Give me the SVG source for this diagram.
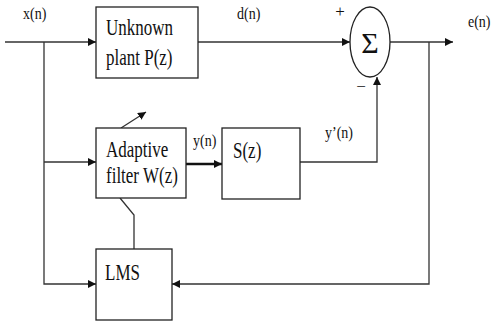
<svg xmlns="http://www.w3.org/2000/svg" width="503" height="324" viewBox="0 0 503 324">
<style>
.box{fill:#fff;stroke:#222;stroke-width:1.3}
.ln{fill:none;stroke:#333;stroke-width:1.3}
.t{font-family:"Liberation Serif","DejaVu Serif","Times New Roman",serif;font-size:17px;fill:#111}
.s{font-size:14px}
.sig{font-size:30px}
</style>
<defs>
<marker id="ah" viewBox="0 0 10 10" refX="10" refY="5" markerWidth="8" markerHeight="8" markerUnits="userSpaceOnUse" orient="auto">
<path d="M0,0 L10,5 L0,10 z" fill="#111"/>
</marker>
</defs>
<rect width="503" height="324" fill="#fff"/>
<g id="connectors">
<line class="ln" x1="5" y1="42" x2="96" y2="42" marker-end="url(#ah)"/>
<polyline class="ln" points="44,42 44,284 96,284" marker-end="url(#ah)"/>
<line class="ln" x1="44" y1="162" x2="96" y2="162" marker-end="url(#ah)"/>
<line class="ln" x1="198" y1="42" x2="350" y2="42" marker-end="url(#ah)"/>
<line class="ln" x1="390" y1="42" x2="453" y2="42" marker-end="url(#ah)"/>
<polyline class="ln" points="429,42 429,284 172,284" marker-end="url(#ah)"/>
<line x1="186" y1="164" x2="222" y2="164" stroke="#111" stroke-width="2.5" marker-end="url(#ah)"/>
<polyline class="ln" points="300,162 377,162 377,77" marker-end="url(#ah)"/>
<line class="ln" x1="121" y1="128" x2="146" y2="112" marker-end="url(#ah)"/>
<polyline class="ln" points="120,198 134,215 134,249"/>
</g>
<g id="plant">
<rect class="box" x="96" y="7" width="102" height="71"/>
<text class="t" transform="translate(106,35) scale(1,1.3)">Unknown</text>
<text class="t" transform="translate(106,65) scale(1,1.3)">plant P(z)</text>
</g>
<g id="sum">
<ellipse class="box" cx="370" cy="42" rx="20" ry="35"/>
<text class="t sig" x="370" y="53" text-anchor="middle">Σ</text>
<text class="t" x="340" y="17" text-anchor="middle">+</text>
<text class="t" x="361" y="92" text-anchor="middle">−</text>
</g>
<g id="filter">
<rect class="box" x="96" y="128" width="90" height="70"/>
<text class="t" transform="translate(106,157) scale(1,1.3)">Adaptive</text>
<text class="t" transform="translate(106,183) scale(1,1.3)">filter W(z)</text>
</g>
<g id="secondary">
<rect class="box" x="222" y="128" width="78" height="71"/>
<text class="t" transform="translate(233,158) scale(1,1.3)">S(z)</text>
</g>
<g id="lms">
<rect class="box" x="96" y="249" width="76" height="71"/>
<text class="t" transform="translate(105,280) scale(1,1.3)">LMS</text>
</g>
<g id="labels">
<text class="t s" transform="translate(23,19) scale(1,1.15)">x(n)</text>
<text class="t s" transform="translate(237,19) scale(1,1.15)">d(n)</text>
<text class="t s" transform="translate(468,27) scale(1,1.15)">e(n)</text>
<text class="t s" transform="translate(193,146) scale(1,1.15)">y(n)</text>
<text class="t s" transform="translate(325,138) scale(1,1.15)">y’(n)</text>
</g>
</svg>
